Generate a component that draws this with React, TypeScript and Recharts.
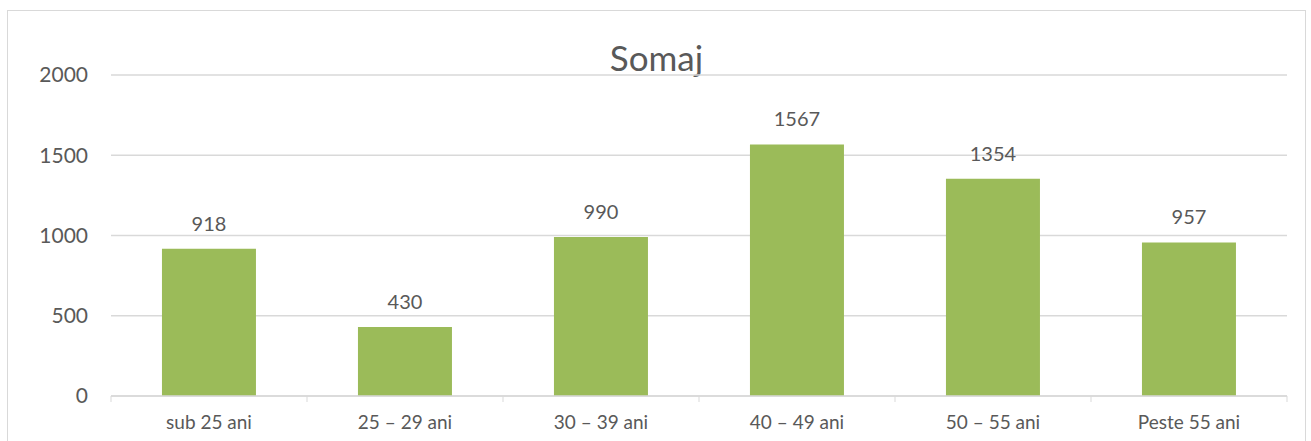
import { BarChart, Bar, XAxis, YAxis, CartesianGrid, LabelList } from "recharts"

const categories = ["sub 25 ani", "25 – 29 ani", "30 – 39 ani", "40 – 49 ani", "50 – 55 ani", "Peste 55 ani"]
const somaj = [918, 430, 990, 1567, 1354, 957]
const yTicks = [0, 500, 1000, 1500, 2000]

const data = categories.map((name, i) => ({ name, somaj: somaj[i] }))

const W = 1311
const H = 441
const LEFT = 111
const RIGHT = 24
const TOP = 75
const XAXIS_H = 45
const HALF_BAND = (W - LEFT - RIGHT) / categories.length / 2

const FONT = "Lato, 'Noto Sans', sans-serif"
const TEXT = "#595959"
const GRID = "#d9d9d9"

function XTick(props: any) {
  const { x, y, payload, index } = props
  return (
    <g>
      <line x1={x - HALF_BAND} y1={y} x2={x - HALF_BAND} y2={y + 6} stroke={GRID} />
      {index === categories.length - 1 && (
        <line x1={x + HALF_BAND} y1={y} x2={x + HALF_BAND} y2={y + 6} stroke={GRID} />
      )}
      <text x={x} y={y + 33} textAnchor="middle" fill={TEXT} fontSize={19} fontFamily={FONT}>
        {payload.value}
      </text>
    </g>
  )
}

export default function App() {
  return (
    <div style={{ position: "relative", width: W, height: H, background: "#fff", overflow: "hidden" }}>
      <style>{"body{margin:0}"}</style>
      <div
        style={{
          position: "absolute",
          left: 7,
          top: 10,
          width: 1297,
          height: 440,
          border: "1.5px solid #d9d9d9",
        }}
      />
      <div
        style={{
          position: "absolute",
          left: 1,
          width: W,
          top: 37,
          textAlign: "center",
          fontFamily: FONT,
          fontSize: 35,
          color: TEXT,
          lineHeight: "40px",
        }}
      >
        Somaj
      </div>
      <div style={{ position: "absolute", left: 0, top: 0 }}>
        <BarChart
          width={W}
          height={H}
          data={data}
          margin={{ top: TOP, right: RIGHT, bottom: 0, left: 0 }}
          barCategoryGap="26%"
        >
          <CartesianGrid vertical={false} stroke={GRID} strokeWidth={1.3} />
          <XAxis
            dataKey="name"
            height={XAXIS_H}
            axisLine={{ stroke: GRID, strokeWidth: 1.3 }}
            tickLine={false}
            tickSize={0}
            tickMargin={0}
            interval={0}
            tick={<XTick />}
          />
          <YAxis
            width={LEFT}
            domain={[0, 2000]}
            ticks={yTicks}
            axisLine={false}
            tickLine={false}
            tickSize={0}
            tickMargin={23}
            tick={{ fill: TEXT, fontSize: 21, fontFamily: FONT }}
          />
          <Bar dataKey="somaj" fill="#9bbb59" isAnimationActive={false}>
            <LabelList
              dataKey="somaj"
              position="top"
              offset={18}
              fill={TEXT}
              fontSize={20}
              fontFamily={FONT}
            />
          </Bar>
        </BarChart>
      </div>
    </div>
  )
}
